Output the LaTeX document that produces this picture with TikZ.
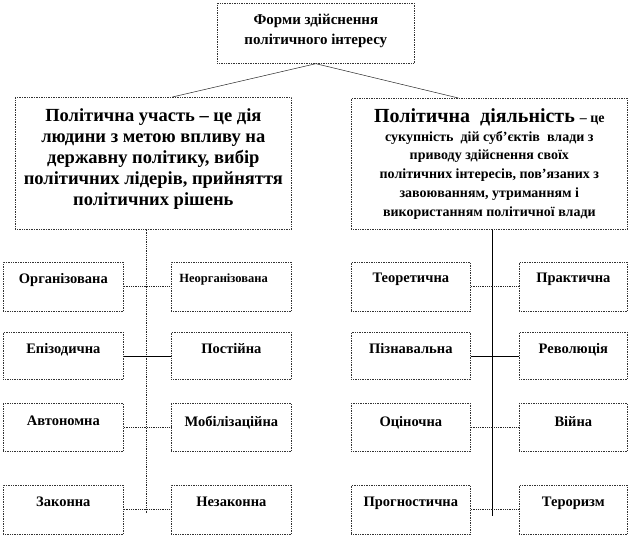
\documentclass[tikz,border=0pt]{standalone}
\usepackage{fontspec}
\setmainfont{Liberation Serif}
\usetikzlibrary{calc}
\newcommand\mycell[3]{\parbox[t][#2pt][t]{#1pt}{\centering #3}}
\newcommand\lblfont{\fontsize{14.5}{16}\selectfont}
\begin{document}
\begin{tikzpicture}[x=1pt,y=-1pt,
  box/.style={draw=black!80, densely dotted, line width=0.7pt, inner sep=0pt, anchor=north west, font=\bfseries},
  thinline/.style={draw=black!85, line width=0.5pt},
  solidline/.style={draw=black, line width=0.7pt},
  dotline/.style={draw=black!85, densely dotted, line width=0.8pt}]
\useasboundingbox (0,0) rectangle (630,536);

% top box
\node[box] (top) at (217,3) {\mycell{197}{60}{\vspace{11pt}\fontsize{15}{20}\selectfont Форми здійснення\\політичного інтересу}};

% big boxes
\node[box] (lp) at (15,97) {\mycell{276}{132}{\vspace{11pt}\fontsize{18.5}{21}\selectfont Політична участь – це дія\\людини з метою впливу на\\державну політику, вибір\\політичних лідерів, прийняття\\політичних рішень}};

\node[box] (rp) at (351,98) {\mycell{276}{131}{\vspace{10pt}{\fontsize{20}{22}\selectfont Політична\ \ діяльність}\ \ \fontsize{14}{18.8}\selectfont – це\\сукупність\ \ дій суб’єктів\ \ влади з\\приводу здійснення своїх\\політичних інтересів, пов’язаних з\\завоюванням, утриманням і\\використанням політичної влади}};

% left group
\node[box] (a1) at (3,262)   {\mycell{120}{49}{\vspace{11pt}\lblfont Організована}};
\node[box] (b1) at (171,262) {\mycell{120}{49}{\raggedright\vspace{11pt}\hspace*{8pt}\fontsize{12.5}{14}\selectfont Неорганізована}};
\node[box] (a2) at (3,332)   {\mycell{120}{47}{\vspace{11pt}\lblfont Епізодична}};
\node[box] (b2) at (171,332) {\mycell{120}{47}{\vspace{11pt}\lblfont Постійна}};
\node[box] (a3) at (3,403)   {\mycell{120}{48}{\vspace{13pt}\lblfont Автономна}};
\node[box] (b3) at (171,403) {\mycell{120}{48}{\vspace{13pt}\lblfont Мобілізаційна}};
\node[box] (a4) at (3,485)   {\mycell{120}{49}{\vspace{12pt}\lblfont Законна}};
\node[box] (b4) at (171,485) {\mycell{120}{49}{\vspace{12pt}\lblfont Незаконна}};

% right group
\node[box] (c1) at (351,262) {\mycell{119}{49}{\vspace{11pt}\lblfont Теоретична}};
\node[box] (d1) at (519,262) {\mycell{108}{49}{\vspace{11pt}\lblfont Практична}};
\node[box] (c2) at (351,332) {\mycell{119}{47}{\vspace{11pt}\lblfont Пізнавальна}};
\node[box] (d2) at (519,332) {\mycell{108}{47}{\vspace{11pt}\lblfont Революція}};
\node[box] (c3) at (351,403) {\mycell{119}{48}{\vspace{13pt}\lblfont Оціночна}};
\node[box] (d3) at (519,403) {\mycell{108}{48}{\vspace{13pt}\lblfont Війна}};
\node[box] (c4) at (351,485) {\mycell{119}{49}{\vspace{12pt}\lblfont Прогностична}};
\node[box] (d4) at (519,485) {\mycell{108}{49}{\vspace{12pt}\lblfont Тероризм}};

% top connectors
\draw[thinline] (top.south) -- ($(lp.north)+(19,0)$);
\draw[thinline] (top.south) -- ($(rp.north)+(-31,0)$);

% vertical spines
\coordinate (lend) at (146,513);
\coordinate (rend) at (492,516);
\draw[dotline] (lp.south -| lend) -- (lend);
\draw[solidline] (rp.south -| rend) -- (rend);

% horizontal connectors
\draw[dotline] (a1.east) -- (b1.west);
\draw[solidline] (a2.east) -- (b2.west);
\draw[dotline] (a3.east) -- (b3.west);
\draw[dotline] (a4.east) -- (b4.west);
\draw[dotline] (c1.east) -- (d1.west);
\draw[solidline] (c2.east) -- (d2.west);
\draw[dotline] (c3.east) -- (d3.west);
\draw[dotline] (c4.east) -- (d4.west);
\end{tikzpicture}
\end{document}
